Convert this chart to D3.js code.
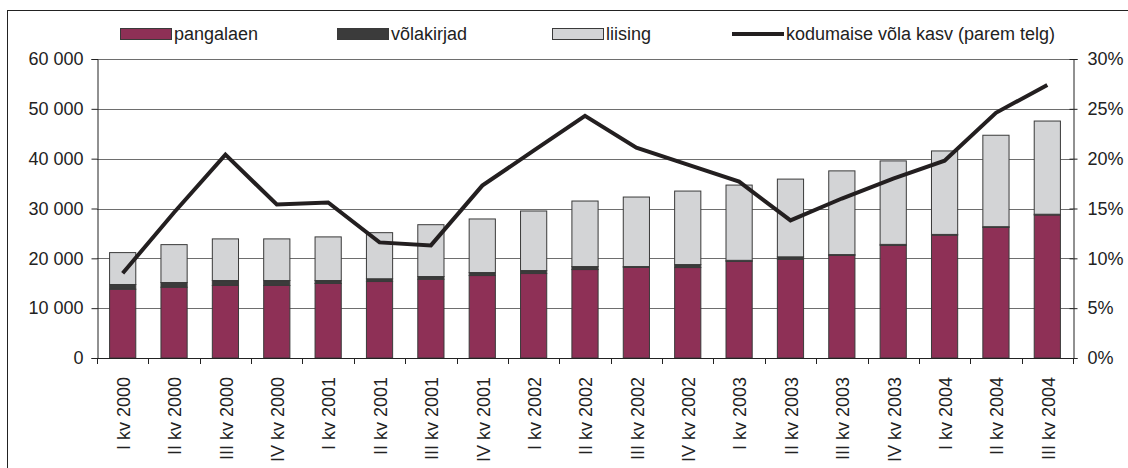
<!DOCTYPE html>
<html>
<head>
<meta charset="utf-8">
<script src="https://cdn.jsdelivr.net/npm/d3@7"></script>
<style>
  body { margin: 0; background: #fff; }
  svg { display: block; font-family: "Liberation Sans", Arial, sans-serif; }
</style>
</head>
<body>
<svg width="1128" height="468"></svg>
<script>
// quarters on the x axis
const quarters = ["I kv 2000", "II kv 2000", "III kv 2000", "IV kv 2000",
  "I kv 2001", "II kv 2001", "III kv 2001", "IV kv 2001",
  "I kv 2002", "II kv 2002", "III kv 2002", "IV kv 2002",
  "I kv 2003", "II kv 2003", "III kv 2003", "IV kv 2003",
  "I kv 2004", "II kv 2004", "III kv 2004"];

// stacked bars (left axis)
const pangalaen = [13800, 14200, 14550, 14550, 14950, 15350, 15800, 16550, 16950, 17750,
  18200, 18150, 19400, 19800, 20600, 22600, 24650, 26200, 28700];
const volakirjad = [950, 950, 1000, 1000, 600, 550, 550, 600, 600, 600,
  150, 600, 200, 500, 150, 200, 150, 150, 150];
const liising = [6400, 7600, 8350, 8350, 8750, 9250, 10400, 10750, 11950, 13150,
  13950, 14750, 15100, 15600, 16800, 16750, 16750, 18350, 18700];

// line (right axis), percent
const kasv = [8.5, 14.6, 20.4, 15.4, 15.6, 11.6, 11.3, 17.3, 20.8, 24.3,
  21.1, 19.4, 17.7, 13.8, 16.0, 18.0, 19.8, 24.6, 27.4];

const leftTicks = [0, 10000, 20000, 30000, 40000, 50000, 60000];
const rightTicks = [0, 5, 10, 15, 20, 25, 30];

const keys = ["pangalaen", "võlakirjad", "liising"];
const colors = { "pangalaen": "#8e3056", "võlakirjad": "#3b3b3b", "liising": "#d3d4d6" };

const svg = d3.select("svg");
const margin = { top: 59, left: 97, right: 1073, bottom: 358 };
const fontSize = 18;

// outer frame
svg.append("rect")
  .attr("x", 7.5).attr("y", 10.5)
  .attr("width", 1140).attr("height", 480)
  .attr("fill", "none").attr("stroke", "#222").attr("stroke-width", 1);

const x = d3.scaleBand()
  .domain(quarters)
  .range([margin.left, margin.right])
  .paddingInner(0.49)
  .paddingOuter(0.245);

const y = d3.scaleLinear().domain([0, 60000]).range([margin.bottom, margin.top]);
const y2 = d3.scaleLinear().domain([0, 30]).range([margin.bottom, margin.top]);

// gridlines
svg.append("g")
  .selectAll("line")
  .data(leftTicks.slice(1))
  .join("line")
  .attr("x1", margin.left).attr("x2", margin.right)
  .attr("y1", d => Math.round(y(d)) + 0.5).attr("y2", d => Math.round(y(d)) + 0.5)
  .attr("stroke", "#6e6e6e").attr("stroke-width", 1);

// table for stacking
const table = quarters.map((q, i) => ({
  q: q, "pangalaen": pangalaen[i], "võlakirjad": volakirjad[i], "liising": liising[i]
}));
const series = d3.stack().keys(keys)(table);

svg.append("g")
  .selectAll("g")
  .data(series)
  .join("g")
  .attr("fill", d => colors[d.key])
  .selectAll("rect")
  .data(d => d)
  .join("rect")
  .attr("x", d => x(d.data.q))
  .attr("y", d => y(d[1]))
  .attr("width", x.bandwidth())
  .attr("height", d => y(d[0]) - y(d[1]))
  .attr("stroke", "#3a3a3a")
  .attr("stroke-width", 1);

// left axis
const leftAxis = svg.append("g")
  .attr("transform", `translate(${margin.left + 0.5},0)`)
  .call(d3.axisLeft(y).tickValues(leftTicks).tickSize(6).tickPadding(8)
    .tickFormat(d => d3.format(",")(d).replace(",", " ")));
leftAxis.select(".domain").attr("stroke", "#222");
leftAxis.selectAll(".tick line").attr("stroke", "#222");
leftAxis.selectAll("text").attr("font-size", fontSize).attr("fill", "#222");

// right axis
const rightAxis = svg.append("g")
  .attr("transform", `translate(${margin.right + 0.5},0)`)
  .call(d3.axisRight(y2).tickValues(rightTicks).tickSize(4).tickPadding(10)
    .tickFormat(d => d + "%"));
rightAxis.select(".domain").attr("stroke", "#222");
rightAxis.selectAll(".tick line").attr("stroke", "#222").attr("x1", -4);
rightAxis.selectAll("text").attr("font-size", fontSize).attr("fill", "#222");

// bottom axis line and category separators
const step = x.step();
const bounds = quarters.map(q => x(q) - (step - x.bandwidth()) / 2).concat([margin.right]);
const bottom = svg.append("g");
bottom.append("line")
  .attr("x1", margin.left).attr("x2", margin.right)
  .attr("y1", margin.bottom + 0.5).attr("y2", margin.bottom + 0.5)
  .attr("stroke", "#222");
bottom.selectAll(".sep")
  .data(bounds)
  .join("line")
  .attr("class", "sep")
  .attr("x1", d => Math.round(d) + 0.5).attr("x2", d => Math.round(d) + 0.5)
  .attr("y1", margin.bottom).attr("y2", margin.bottom + 6)
  .attr("stroke", "#222");

// rotated category labels
bottom.selectAll(".lab")
  .data(quarters)
  .join("text")
  .attr("class", "lab")
  .attr("transform", d => `translate(${x(d) + x.bandwidth() / 2 + 1},${margin.bottom + 19}) rotate(-90)`)
  .attr("text-anchor", "end")
  .attr("dy", "0.35em")
  .attr("font-size", fontSize)
  .attr("fill", "#222")
  .text(d => d);

// growth line
const line = d3.line()
  .x((d, i) => x(quarters[i]) + x.bandwidth() / 2)
  .y(d => y2(d));
svg.append("path")
  .datum(kasv)
  .attr("d", line)
  .attr("fill", "none")
  .attr("stroke", "#231f20")
  .attr("stroke-width", 4)
  .attr("stroke-linejoin", "miter");

// legend
const legendItems = [
  { label: "pangalaen", key: "pangalaen", x: 120 },
  { label: "võlakirjad", key: "võlakirjad", x: 337 },
  { label: "liising", key: "liising", x: 552 },
  { label: "kodumaise võla kasv (parem telg)", key: null, x: 732 }
];
const legend = svg.append("g");
legendItems.forEach(it => {
  if (it.key) {
    legend.append("rect")
      .attr("x", it.x + 0.5).attr("y", 28.5)
      .attr("width", 51).attr("height", 11)
      .attr("fill", colors[it.key]).attr("stroke", "#3a3a3a");
  } else {
    legend.append("line")
      .attr("x1", it.x).attr("x2", it.x + 52)
      .attr("y1", 34).attr("y2", 34)
      .attr("stroke", "#231f20").attr("stroke-width", 4);
  }
  legend.append("text")
    .attr("x", it.x + 54).attr("y", 34)
    .attr("dy", "0.35em")
    .attr("font-size", fontSize)
    .attr("fill", "#222")
    .text(it.label);
});
</script>
</body>
</html>
